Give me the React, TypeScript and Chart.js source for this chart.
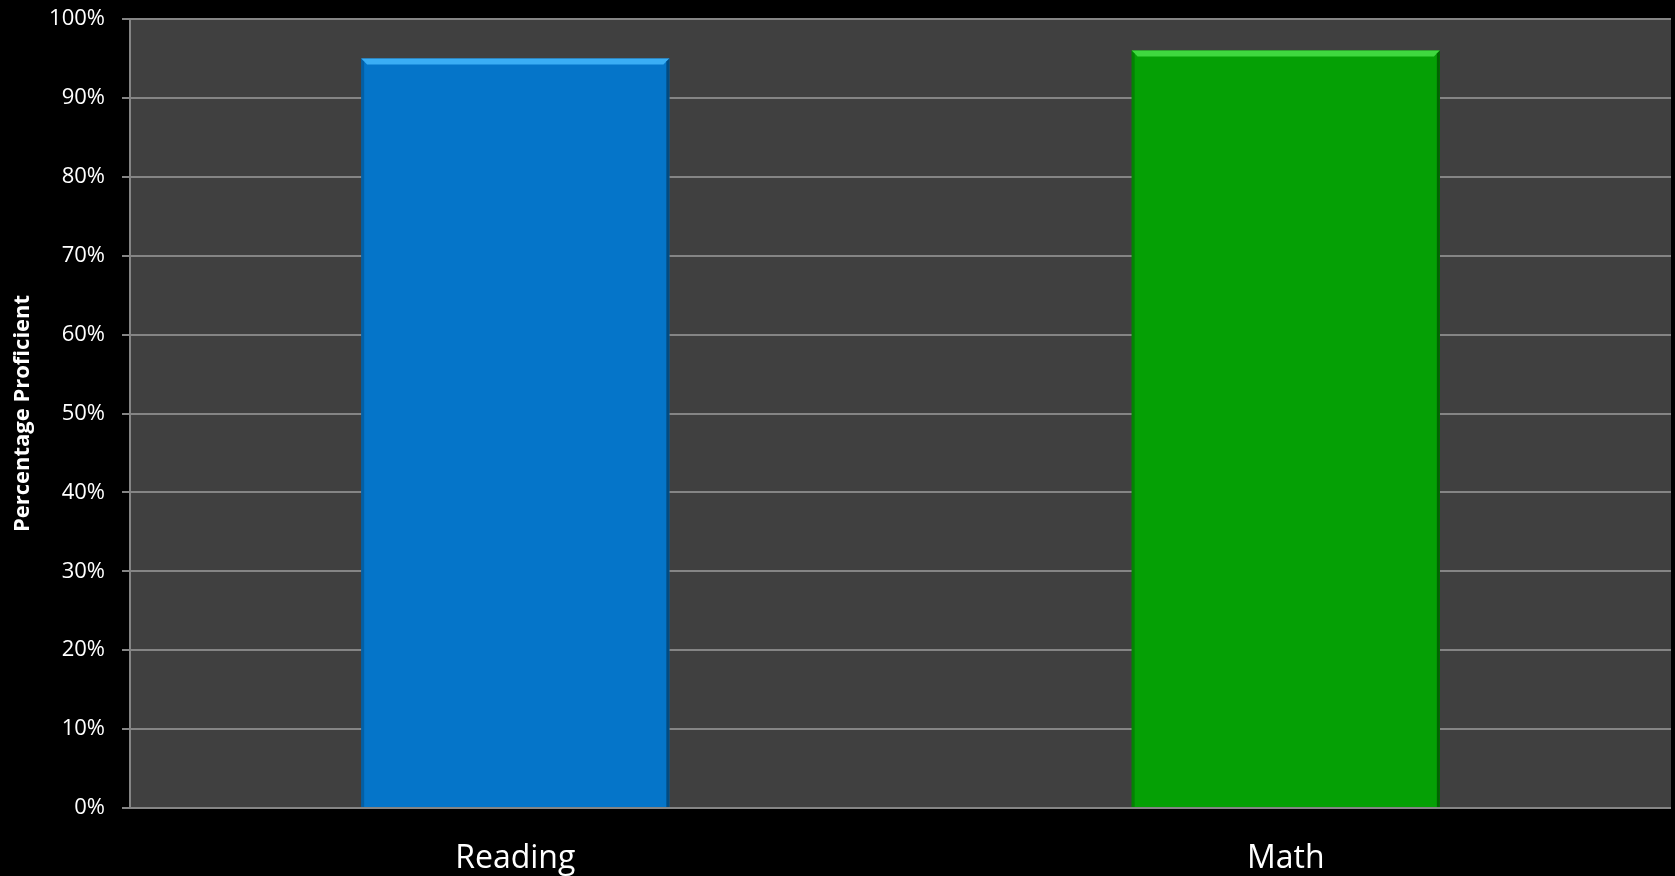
import React, { useEffect, useRef } from "react";
import { Chart, registerables } from "chart.js";

Chart.register(...registerables);

const categories = ["Reading", "Math"];
const values = [95, 96];
const barColors = ["#0575C9", "#05A005"];
const barHighlights = ["#3AAEF5", "#3FD83F"];
const barShadows = ["#034A80", "#026302"];
const yTicks = [0, 10, 20, 30, 40, 50, 60, 70, 80, 90, 100];

const plotBg = {
  id: "plotBg",
  beforeDraw(chart: any) {
    const { ctx, chartArea } = chart;
    if (!chartArea) return;
    ctx.save();
    ctx.fillStyle = "#404040";
    ctx.fillRect(chartArea.left, chartArea.top, chartArea.right - chartArea.left, chartArea.bottom - chartArea.top);
    ctx.restore();
  },
};

const bevel = {
  id: "bevel",
  afterDatasetsDraw(chart: any) {
    const { ctx } = chart;
    const meta = chart.getDatasetMeta(0);
    meta.data.forEach((bar: any, i: number) => {
      const { x, y, base, width } = bar.getProps(["x", "y", "base", "width"], true);
      const l = x - width / 2;
      const r = x + width / 2;
      const b = 6;
      ctx.save();
      ctx.fillStyle = barHighlights[i];
      ctx.beginPath();
      ctx.moveTo(l, y);
      ctx.lineTo(r, y);
      ctx.lineTo(r - b, y + b);
      ctx.lineTo(l + b, y + b);
      ctx.closePath();
      ctx.fill();
      ctx.fillStyle = barShadows[i];
      ctx.beginPath();
      ctx.moveTo(r, y);
      ctx.lineTo(r, base);
      ctx.lineTo(r - 3, base);
      ctx.lineTo(r - 3, y + 3);
      ctx.closePath();
      ctx.fill();
      ctx.globalAlpha = 0.5;
      ctx.beginPath();
      ctx.moveTo(l, y);
      ctx.lineTo(l + 3, y + 3);
      ctx.lineTo(l + 3, base);
      ctx.lineTo(l, base);
      ctx.closePath();
      ctx.fill();
      ctx.restore();
    });
  },
};

export default function App() {
  const ref = useRef<HTMLCanvasElement>(null);

  useEffect(() => {
    if (!ref.current) return;
    const chart = new Chart(ref.current, {
      type: "bar",
      data: {
        labels: categories,
        datasets: [
          {
            data: values,
            backgroundColor: barColors,
            borderWidth: 0,
            barPercentage: 0.8,
            categoryPercentage: 0.5,
          },
        ],
      },
      options: {
        animation: false,
        responsive: false,
        maintainAspectRatio: false,
        layout: { padding: { top: 19, right: 4, left: 0, bottom: 0 } },
        plugins: { legend: { display: false }, tooltip: { enabled: false } },
        scales: {
          x: {
            grid: { display: false },
            border: { display: false },
            ticks: {
              color: "#ffffff",
              font: { family: "'Open Sans', sans-serif", size: 32 },
              padding: 24,
            },
            afterFit(scale: any) {
              scale.height = 68;
              scale.paddingLeft = 0;
              scale.paddingRight = 0;
            },
          },
          y: {
            min: 0,
            max: 100,
            afterBuildTicks(scale: any) {
              scale.ticks = yTicks.map((v) => ({ value: v }));
            },
            grid: {
              color: "#858585",
              lineWidth: 2,
              tickLength: 8,
              drawTicks: true,
            },
            border: { display: true, color: "#858585", width: 2 },
            ticks: {
              color: "#ffffff",
              font: { family: "'Open Sans', sans-serif", size: 22 },
              padding: 17,
              callback: (v: any) => v + "%",
            },
            title: {
              display: true,
              text: "Percentage Proficient",
              color: "#ffffff",
              font: { family: "'Open Sans', sans-serif", size: 22, weight: "bold" },
              padding: { top: 10, bottom: 0 },
            },
            afterFit(scale: any) {
              scale.width = 130;
              scale.paddingTop = 0;
              scale.paddingBottom = 0;
            },
          },
        },
      },
      plugins: [plotBg, bevel],
    });
    return () => chart.destroy();
  }, []);

  return (
    <div style={{ position: "fixed", left: 0, top: 0, width: 1675, height: 876, background: "#000" }}>
      <canvas ref={ref} width={1675} height={876} style={{ display: "block" }} />
    </div>
  );
}
